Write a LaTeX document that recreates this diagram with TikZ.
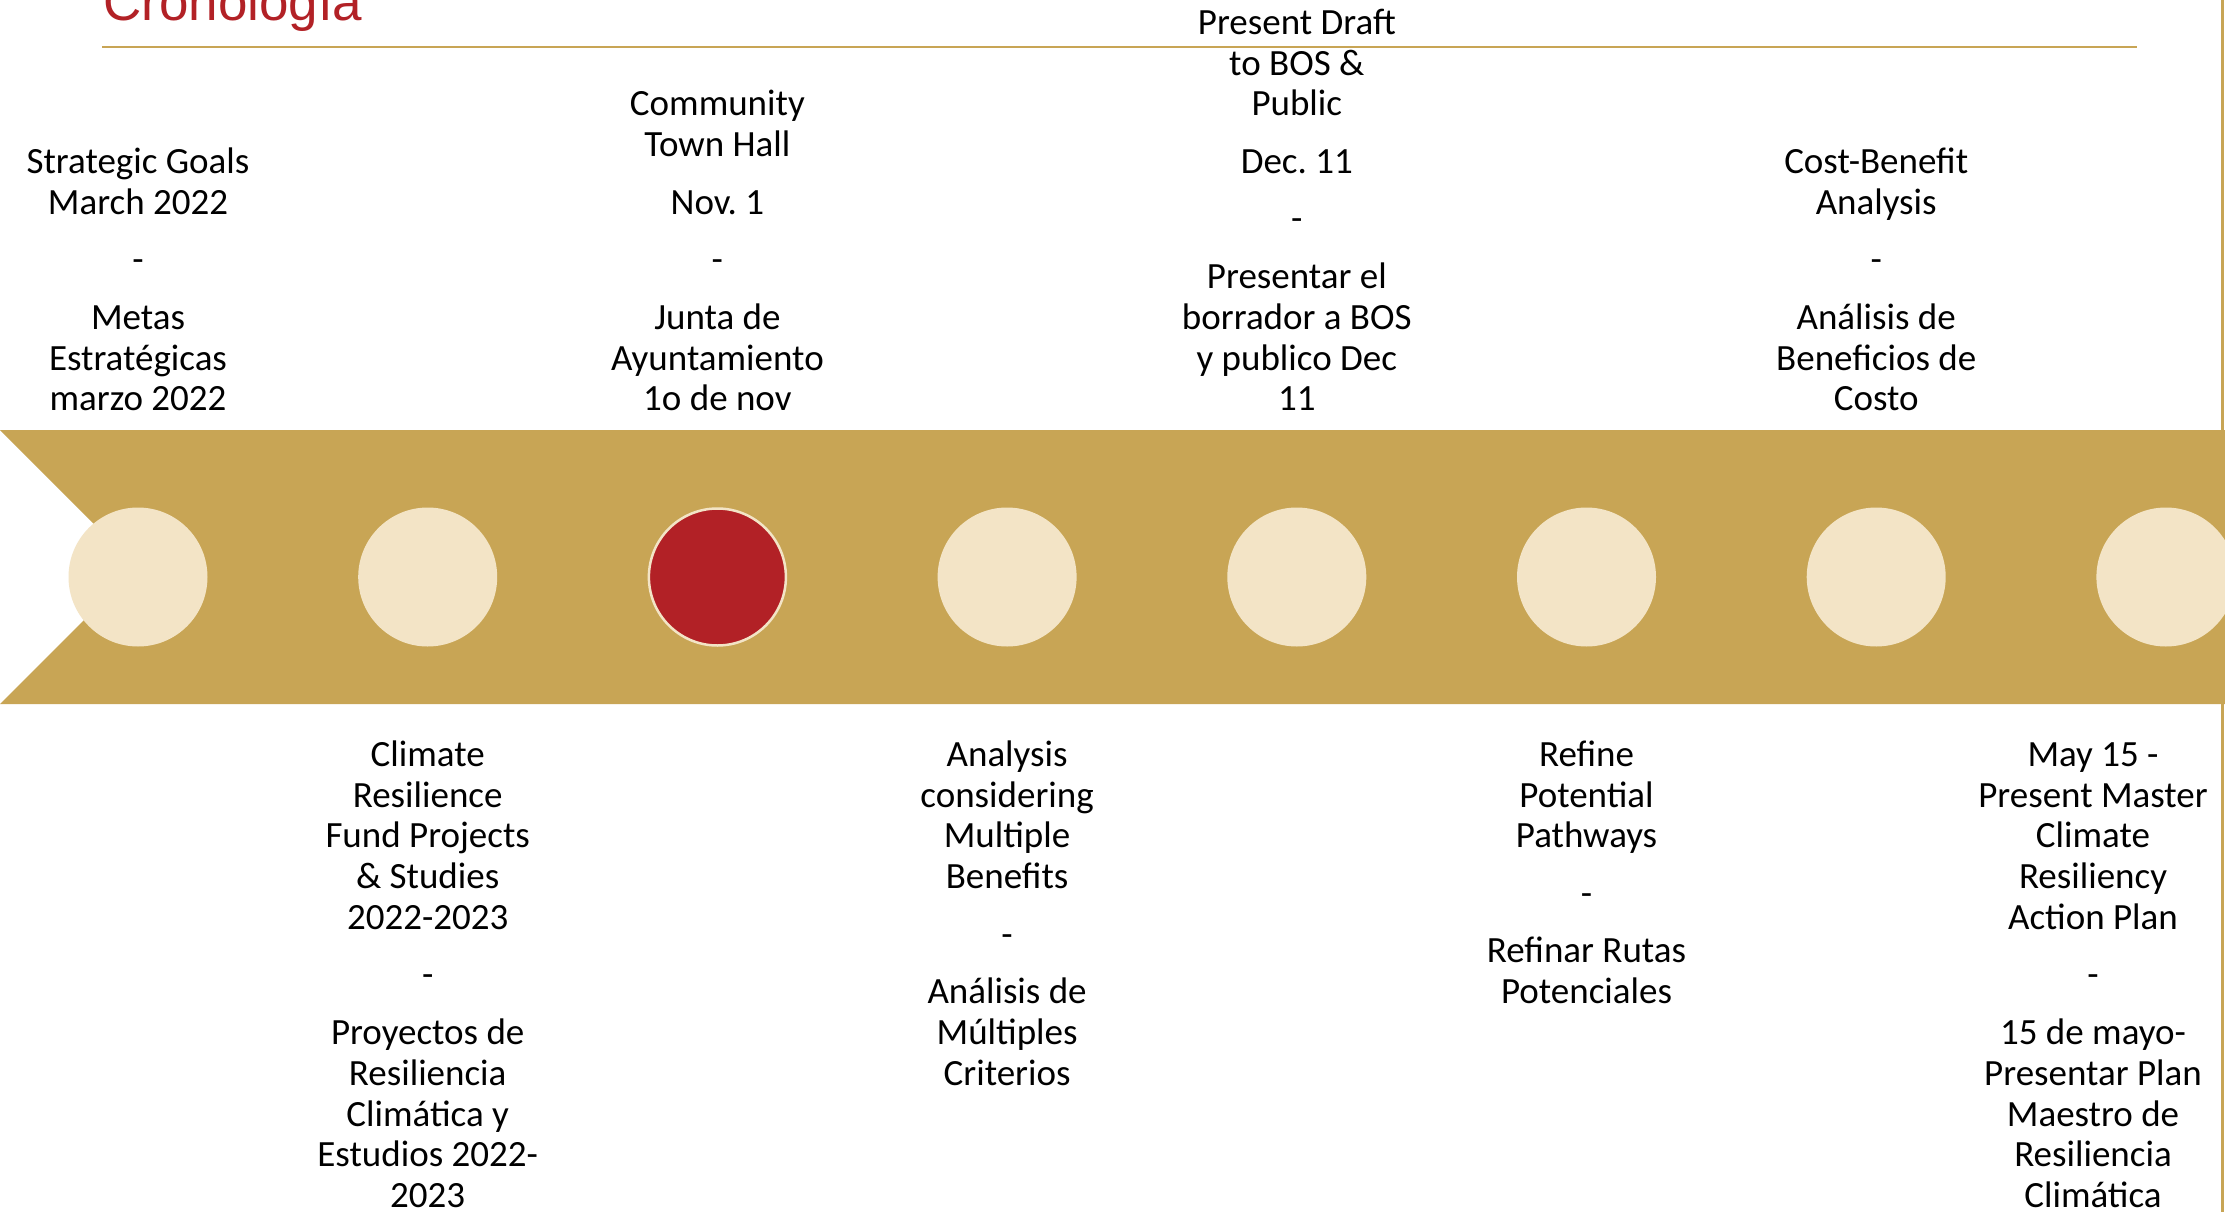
\documentclass[tikz,border=0pt]{standalone}
\usepackage{fontspec}
\setmainfont{Carlito}
\newfontfamily\titlefont{Liberation Sans}
\definecolor{gold}{HTML}{C8A555}
\definecolor{cream}{HTML}{F3E4C6}
\definecolor{crimson}{HTML}{B22126}
\newcommand\fs{\rule{0pt}{28pt}}
\newcommand\ls{\rule[-9pt]{0pt}{9pt}}
\newcommand\pg{\\[16.7pt]}
\frenchspacing
\begin{document}
\begin{tikzpicture}[x=1pt,y=-1pt,
  txt/.style={align=center, inner sep=0pt, font=\fontsize{37}{40.8}\selectfont\frenchspacing},
  up/.style={txt, anchor=south},
  down/.style={txt, anchor=north},
  dot/.style={circle, fill=cream, minimum size=139pt, inner sep=0pt},
  reddot/.style={circle, fill=crimson, draw=cream, line width=2.5pt, minimum size=137pt, inner sep=0pt}]
\useasboundingbox (0,0) rectangle (2225,1212);
\fill[white] (0,0) rectangle (2225,1212);
% title and rules
\node[anchor=base west, inner sep=0pt, text=crimson, font=\titlefont\fontsize{53}{60}\selectfont] (title) at (103,21) {Cronología};
\coordinate (l1) at (102,47);
\coordinate (l2) at (2137,47);
\draw[gold, line width=2pt] (l1) -- (l2);
\coordinate (v1) at (2222.5,0);
\coordinate (v2) at (2222.5,1212);
\draw[gold, line width=3pt] (v1) -- (v2);
% band
\fill[gold] (0,430) -- (2226,430) -- (2226,704) -- (0,704) -- (137,567) -- cycle;
% dots
\node[dot] (c1) at (138,577) {};
\node[dot] (c2) at (427.7,577) {};
\node[reddot] (c3) at (717.4,577) {};
\node[dot] (c4) at (1007.1,577) {};
\node[dot] (c5) at (1296.8,577) {};
\node[dot] (c6) at (1586.5,577) {};
\node[dot] (c7) at (1876.2,577) {};
\node[dot] (c8) at (2165.9,577) {};
% top texts
\node[up] (t1) at (138,420) {\fs Strategic Goals\\March 2022\pg -\pg Metas\\Estratégicas\\marzo 2022\ls};
\node[up] (t3) at (717.4,420) {\fs Community\\Town Hall\pg Nov. 1\pg -\pg Junta de\\Ayuntamiento\\1o de nov\ls};
\node[up] (t5) at (1296.8,420) {\fs Present Draft\\to BOS \&\\Public\pg Dec. 11\pg -\pg Presentar el\\borrador a BOS\\y publico Dec\\11\ls};
\node[up] (t7) at (1876.2,420) {\fs Cost-Benefit\\Analysis\pg -\pg Análisis de\\Beneficios de\\Costo\ls};
% bottom texts
\node[down] (t2) at (427.7,738) {\fs Climate\\Resilience\\Fund Projects\\\& Studies\\2022-2023\pg -\pg Proyectos de\\Resiliencia\\Climática y\\Estudios 2022-\\2023\ls};
\node[down] (t4) at (1007.1,738) {\fs Analysis\\considering\\Multiple\\Benefits\pg -\pg Análisis de\\Múltiples\\Criterios\ls};
\node[down] (t6) at (1586.5,738) {\fs Refine\\Potential\\Pathways\pg -\pg Refinar Rutas\\Potenciales\ls};
\node[down] (t8) at (2093,738) {\fs May 15 -\\Present Master\\Climate\\Resiliency\\Action Plan\pg -\pg 15 de mayo-\\Presentar Plan\\Maestro de\\Resiliencia\\Climática\ls};
\end{tikzpicture}
\end{document}
